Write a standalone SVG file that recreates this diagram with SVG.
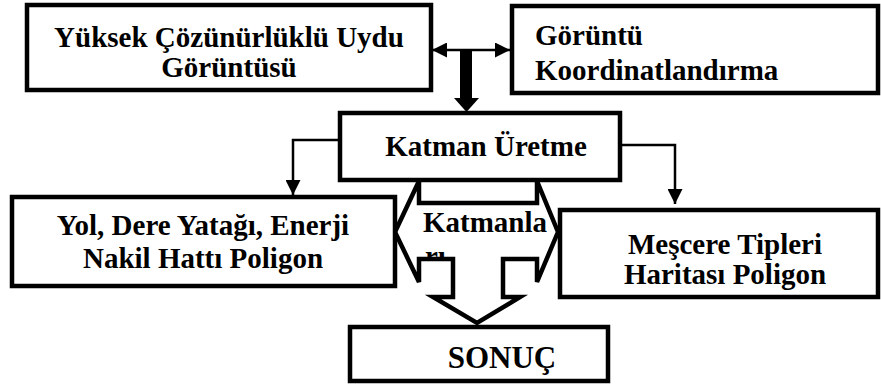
<svg xmlns="http://www.w3.org/2000/svg" width="881" height="389" viewBox="0 0 881 389">
<defs>
<style>
.box{fill:#fff;stroke:#000;stroke-width:4.5}
.t{font-family:'Liberation Serif','Times New Roman',Times,'DejaVu Serif',serif;font-weight:700;font-size:29px;fill:#000}
.c{text-anchor:middle}
.thin{fill:none;stroke:#000;stroke-width:2.5}
</style>
<marker id="ah" markerUnits="userSpaceOnUse" markerWidth="15" markerHeight="15" refX="15" refY="7.5" orient="auto-start-reverse" viewBox="0 0 15 15">
<path d="M0,0 L15,7.5 L0,15 Z" fill="#000"/>
</marker>
<clipPath id="clipM"><rect x="560" y="210" width="318" height="81"/></clipPath>
<clipPath id="clipK"><rect x="400" y="200" width="160" height="60"/></clipPath>
</defs>
<g id="connectors">
<line class="thin" x1="432" y1="50" x2="510" y2="50" stroke-width="3" marker-start="url(#ah)" marker-end="url(#ah)"/>
<rect x="460" y="50" width="12" height="49" fill="#000"/>
<polygon points="454,98 479,98 466.5,112" fill="#000"/>
<path class="thin" d="M340,140 H293 V195" marker-end="url(#ah)"/>
<path class="thin" d="M620,145 H675 V204" marker-end="url(#ah)"/>
<polygon id="katmanlari-arrow" points="419,203 419,181 395,232 419,282 419,259 453,259 453,297 433,297 477,323 520,297 503,297 503,259 537,259 537,282 558,232 537,181 537,203" fill="#fff" stroke="#000" stroke-width="4.5" stroke-linejoin="miter"/>
<text class="t" x="423" y="232">Katmanla</text>
<text class="t" x="425" y="266" clip-path="url(#clipK)">rı</text>
</g>
<g id="n1">
<rect class="box" x="27" y="5" width="404" height="85"/>
<text class="t c" x="229" y="47">Yüksek Çözünürlüklü Uydu</text>
<text class="t c" x="229" y="77">Görüntüsü</text>
</g>
<g id="n2">
<rect class="box" x="512" y="6" width="366" height="87"/>
<text class="t" x="535" y="45">Görüntü</text>
<text class="t" x="535" y="80">Koordinatlandırma</text>
</g>
<g id="n3">
<rect class="box" x="340" y="113" width="280" height="67"/>
<text class="t c" x="486" y="156">Katman Üretme</text>
</g>
<g id="n4">
<rect class="box" x="12" y="197" width="383" height="89"/>
<text class="t c" x="203" y="235">Yol, Dere Yatağı, Enerji</text>
<text class="t c" x="203" y="268">Nakil Hattı Poligon</text>
</g>
<g id="n5">
<rect class="box" x="560" y="210" width="318" height="87"/>
<g clip-path="url(#clipM)">
<text class="t c" x="725" y="254">Meşcere Tipleri</text>
<text class="t c" x="725" y="284">Haritası Poligon</text>
</g>
</g>
<g id="n6">
<rect class="box" x="350" y="327" width="258" height="54"/>
<text class="t c" x="502" y="368" style="font-size:31px">SONUÇ</text>
</g>
</svg>
